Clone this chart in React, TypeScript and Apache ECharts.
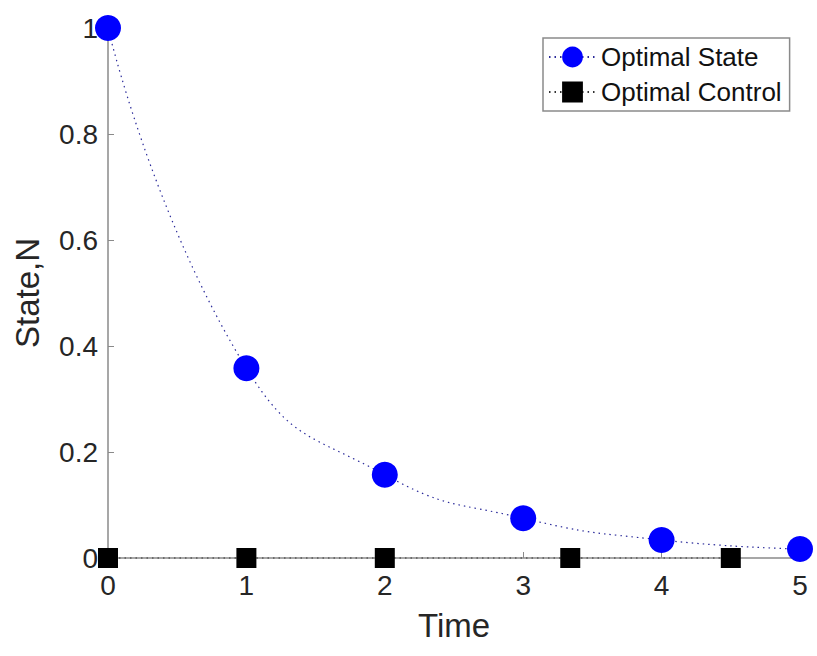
import React, { useEffect, useRef } from "react";
import * as echarts from "echarts";

const stateTimes = [0, 1, 2, 3, 4, 5];
const stateValues = [1.0, 0.358, 0.157, 0.075, 0.034, 0.017];
const controlTimes = [0, 1, 2, 3.34, 4.5];
const controlValues = [0, 0, 0, 0, 0];
const seriesNames = ["Optimal State", "Optimal Control"];
const xAxisName = "Time";
const yAxisName = "State,N";

const FONT = "'Liberation Sans', Arial, Helvetica, sans-serif";

export default function App() {
  const ref = useRef<HTMLDivElement>(null);
  useEffect(() => {
    document.body.style.margin = "0";
    const chart = echarts.init(ref.current!, null, { renderer: "svg" });
    const axisColor = "#8a8a8a";
    const textColor = "#262626";
    chart.setOption({
      animation: false,
      backgroundColor: "#ffffff",
      textStyle: { fontFamily: FONT },
      grid: { left: 108, right: 17, top: 28, bottom: 98, containLabel: false },
      legend: {
        orient: "vertical",
        left: 543,
        top: 38,
        padding: [6, 8, 6, 5],
        itemGap: 9,
        itemWidth: 47,
        itemHeight: 26,
        borderColor: "#8a8a8a",
        borderWidth: 1.5,
        backgroundColor: "#ffffff",
        textStyle: { fontSize: 26, color: "#111", fontFamily: FONT, lineHeight: 26 },
        data: seriesNames,
      },
      xAxis: {
        type: "value",
        min: 0,
        max: 5,
        interval: 1,
        name: xAxisName,
        nameLocation: "middle",
        nameGap: 51,
        nameTextStyle: { fontSize: 33, color: textColor, fontFamily: FONT },
        axisLine: { show: true, onZero: false, lineStyle: { color: axisColor, width: 1.5 } },
        axisTick: { show: true, inside: true, length: 6, lineStyle: { color: axisColor } },
        axisLabel: { fontSize: 28, color: textColor, margin: 13, fontFamily: FONT },
        splitLine: { show: false },
      },
      yAxis: {
        type: "value",
        min: 0,
        max: 1,
        interval: 0.2,
        name: yAxisName,
        nameLocation: "middle",
        nameGap: 64,
        nameTextStyle: { fontSize: 33, color: textColor, fontFamily: FONT },
        axisLine: { show: true, onZero: false, lineStyle: { color: axisColor, width: 1.5 } },
        axisTick: { show: true, inside: true, length: 6, lineStyle: { color: axisColor } },
        axisLabel: { fontSize: 28, color: textColor, margin: 10, fontFamily: FONT },
        splitLine: { show: false },
      },
      series: [
        {
          name: seriesNames[0],
          type: "line",
          data: stateTimes.map((t, i) => [t, stateValues[i]]),
          smooth: 0.5,
          symbol: "circle",
          symbolSize: 26,
          clip: false,
          itemStyle: { color: "#0000ff" },
          lineStyle: { color: "#2a2a9a", width: 1.2, type: [1.5, 4] },
          z: 3,
        },
        {
          name: seriesNames[1],
          type: "line",
          data: controlTimes.map((t, i) => [t, controlValues[i]]),
          symbol: "rect",
          symbolSize: 20,
          clip: false,
          itemStyle: { color: "#000000" },
          lineStyle: { color: "#333333", width: 1.2, type: [1.5, 4] },
          z: 4,
        },
      ],
    });
    return () => chart.dispose();
  }, []);
  return <div ref={ref} style={{ width: 817, height: 656 }} />;
}
